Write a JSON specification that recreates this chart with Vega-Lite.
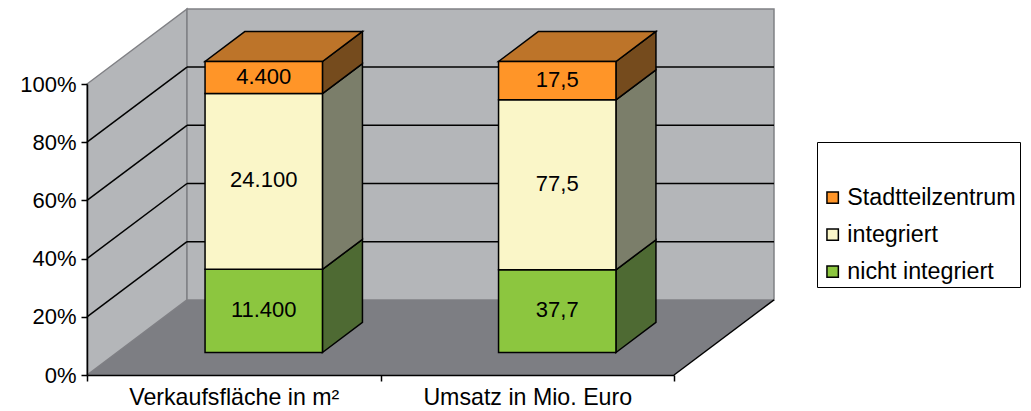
{
"$schema":"https://vega.github.io/schema/vega-lite/v6.json",
"width":587,"height":291,
"autosize":"none",
"padding":{"left":87,"top":84,"right":357,"bottom":36},
"background":"white",
"config":{"view":{"stroke":null},"font":"Liberation Sans"},
"datasets":{
"bars":[
{"category":"Verkaufsfläche in m²","series":"nicht integriert","stackRank":1,"value":11400,"label":"11.400"},
{"category":"Verkaufsfläche in m²","series":"integriert","stackRank":2,"value":24100,"label":"24.100"},
{"category":"Verkaufsfläche in m²","series":"Stadtteilzentrum","stackRank":3,"value":4400,"label":"4.400"},
{"category":"Umsatz in Mio. Euro","series":"nicht integriert","stackRank":1,"value":37.7,"label":"37,7"},
{"category":"Umsatz in Mio. Euro","series":"integriert","stackRank":2,"value":77.5,"label":"77,5"},
{"category":"Umsatz in Mio. Euro","series":"Stadtteilzentrum","stackRank":3,"value":17.5,"label":"17,5"}
],
"depth":[{"depth":0},{"depth":1}],
"grid":[{"level":0.2},{"level":0.4},{"level":0.6},{"level":0.8}],
"wall":[{"wall":"back"}]
},
"layer":[
{"data":{"name":"depth"},
 "transform":[{"calculate":"datum.depth*0.3407","as":"px"},{"calculate":"datum.depth*0.258","as":"py"},{"calculate":"1+datum.depth*0.258","as":"py2"}],
 "mark":{"type":"area","orient":"vertical","fill":"#b4b6b9","stroke":"#808185","strokeWidth":1.5},
 "encoding":{
  "x":{"field":"px","type":"quantitative","scale":{"domain":[0,2],"nice":false,"zero":false},"title":null,
   "axis":{"values":[0,0.5,1,1.5,2],"grid":false,"zindex":1,"domainColor":"black","domainWidth":1.5,"tickColor":"black","tickWidth":1.5,"tickSize":6,
    "tickOpacity":{"condition":{"test":"datum.value==0.5||datum.value==1.5","value":0},"value":1},
    "labelExpr":"datum.value==0.5?'Verkaufsfläche in m²':datum.value==1.5?'Umsatz in Mio. Euro':''","labelFont":"Liberation Sans","labelFontSize":23.2,"labelColor":"black","labelPadding":5,"labelLimit":400,"labelOverlap":false,"labelFlush":false,"labelAngle":0}},
  "y":{"field":"py","type":"quantitative","scale":{"domain":[0,1],"nice":false,"zero":false},"title":null,
   "axis":{"values":[0,0.2,0.4,0.6,0.8,1],"format":".0%","grid":false,"zindex":1,"domainColor":"black","domainWidth":1.5,"tickColor":"black","tickWidth":1.5,"tickSize":6,"labelFont":"Liberation Sans","labelFontSize":22,"labelColor":"black","labelPadding":5}},
  "y2":{"field":"py2"}
 }},
{"data":{"name":"wall"},
 "mark":{"type":"rect","fill":"#b4b6b9","stroke":"#808185","strokeWidth":1.5},
 "encoding":{
  "x":{"datum":0.3407,"type":"quantitative","title":null,"scale":{"domain":[0,2],"nice":false,"zero":false}},"x2":{"datum":2.3407},
  "y":{"datum":0.258,"type":"quantitative","title":null,"scale":{"domain":[0,1],"nice":false,"zero":false}},"y2":{"datum":1.258}
 }},
{"data":{"name":"depth"},
 "transform":[{"calculate":"datum.depth*0.3407","as":"px"},{"calculate":"2+datum.depth*0.3407","as":"px2"},{"calculate":"datum.depth*0.258","as":"py"}],
 "mark":{"type":"area","orient":"horizontal","fill":"#7d7e83"},
 "encoding":{
  "x":{"field":"px","type":"quantitative","title":null,"scale":{"domain":[0,2],"nice":false,"zero":false}},"x2":{"field":"px2"},
  "y":{"field":"py","type":"quantitative","title":null,"scale":{"domain":[0,1],"nice":false,"zero":false}}
 }},
{"data":{"name":"grid"},
 "transform":[{"calculate":"datum.level+0.258","as":"back"}],
 "mark":{"type":"rule","color":"black","strokeWidth":1.5},
 "encoding":{
  "x":{"datum":0,"type":"quantitative","title":null,"scale":{"domain":[0,2],"nice":false,"zero":false}},"x2":{"datum":0.3407},
  "y":{"field":"level","type":"quantitative","title":null,"scale":{"domain":[0,1],"nice":false,"zero":false}},"y2":{"field":"back"}
 }},
{"data":{"name":"grid"},
 "transform":[{"calculate":"datum.level+0.258","as":"back"}],
 "mark":{"type":"rule","color":"black","strokeWidth":1.5},
 "encoding":{
  "x":{"datum":0.3407,"type":"quantitative","title":null,"scale":{"domain":[0,2],"nice":false,"zero":false}},"x2":{"datum":2.3407},
  "y":{"field":"back","type":"quantitative","title":null,"scale":{"domain":[0,1],"nice":false,"zero":false}}
 }},
{"data":{"name":"wall"},
 "mark":{"type":"rule","color":"black","strokeWidth":1.5},
 "encoding":{
  "x":{"datum":2,"type":"quantitative","title":null,"scale":{"domain":[0,2],"nice":false,"zero":false}},"x2":{"datum":2.3407},
  "y":{"datum":0,"type":"quantitative","title":null,"scale":{"domain":[0,1],"nice":false,"zero":false}},"y2":{"datum":0.258}
 }},
{"data":{"name":"bars"},
 "transform":[
  {"stack":"value","groupby":["category"],"offset":"normalize","sort":[{"field":"stackRank","order":"ascending"}],"as":["lower","upper"]},
  {"calculate":"datum.category==='Verkaufsfläche in m²'?0:1","as":"slot"}
 ],
 "layer":[
  {"transform":[{"calculate":"[0.3,0.7]","as":"d"},{"flatten":["d"]},
    {"calculate":"datum.slot+0.7+datum.d*0.3407","as":"sx"},{"calculate":"datum.lower+datum.d*0.258","as":"sy"},{"calculate":"datum.upper+datum.d*0.258","as":"sy2"}],
   "mark":{"type":"area","orient":"vertical","stroke":"black","strokeWidth":1.5},
   "encoding":{
    "x":{"field":"sx","type":"quantitative","title":null,"scale":{"domain":[0,2],"nice":false,"zero":false}},
    "y":{"field":"sy","type":"quantitative","title":null,"scale":{"domain":[0,1],"nice":false,"zero":false}},"y2":{"field":"sy2"},
    "detail":{"field":"category"},
    "fill":{"field":"series","type":"nominal","legend":null,"scale":{"domain":["Stadtteilzentrum","integriert","nicht integriert"],"range":["#754b1d","#7b7e6a","#4e6a33"]}}
   }},
  {"transform":[{"filter":"datum.upper>=0.999"},{"calculate":"[0.3,0.7]","as":"d"},{"flatten":["d"]},
    {"calculate":"datum.slot+0.3+datum.d*0.3407","as":"tx"},{"calculate":"datum.slot+0.7+datum.d*0.3407","as":"tx2"},{"calculate":"1+datum.d*0.258","as":"ty"}],
   "mark":{"type":"area","orient":"horizontal","fill":"#bd7429","stroke":"black","strokeWidth":1.5},
   "encoding":{
    "x":{"field":"tx","type":"quantitative","title":null,"scale":{"domain":[0,2],"nice":false,"zero":false}},"x2":{"field":"tx2"},
    "y":{"field":"ty","type":"quantitative","title":null,"scale":{"domain":[0,1],"nice":false,"zero":false}},
    "detail":{"field":"category"}
   }},
  {"transform":[{"calculate":"datum.slot+0.3+0.3*0.3407","as":"fx"},{"calculate":"datum.slot+0.7+0.3*0.3407","as":"fx2"},{"calculate":"datum.lower+0.3*0.258","as":"fy"},{"calculate":"datum.upper+0.3*0.258","as":"fy2"}],
   "mark":{"type":"rect","stroke":"black","strokeWidth":1.5},
   "encoding":{
    "x":{"field":"fx","type":"quantitative","title":null,"scale":{"domain":[0,2],"nice":false,"zero":false}},"x2":{"field":"fx2"},
    "y":{"field":"fy","type":"quantitative","title":null,"scale":{"domain":[0,1],"nice":false,"zero":false}},"y2":{"field":"fy2"},
    "fill":{"field":"series","type":"nominal",
     "scale":{"domain":["Stadtteilzentrum","integriert","nicht integriert"],"range":["#ff9528","#faf6c8","#8cc63f"]},
     "legend":{"orient":"none","legendX":730,"legendY":58,"title":" ","titleFontSize":18,"titlePadding":22,"padding":4,"strokeColor":"black","fillColor":"white","symbolType":"square","symbolSize":130,"symbolStrokeColor":"black","symbolStrokeWidth":1.5,"labelFont":"Liberation Sans","labelFontSize":23.3,"labelColor":"black","rowPadding":13,"labelOffset":3,"labelLimit":300}}
   }},
  {"transform":[{"calculate":"datum.slot+0.5+0.3*0.3407","as":"lx"},{"calculate":"(datum.lower+datum.upper)/2+0.3*0.258","as":"ly"}],
   "mark":{"type":"text","font":"Liberation Sans","fontSize":22,"color":"black","align":"center","baseline":"middle","dy":-1},
   "encoding":{
    "x":{"field":"lx","type":"quantitative","title":null,"scale":{"domain":[0,2],"nice":false,"zero":false}},
    "y":{"field":"ly","type":"quantitative","title":null,"scale":{"domain":[0,1],"nice":false,"zero":false}},
    "text":{"field":"label","type":"nominal"}
   }}
 ],
 "resolve":{"scale":{"fill":"independent"}}
}
]
}
